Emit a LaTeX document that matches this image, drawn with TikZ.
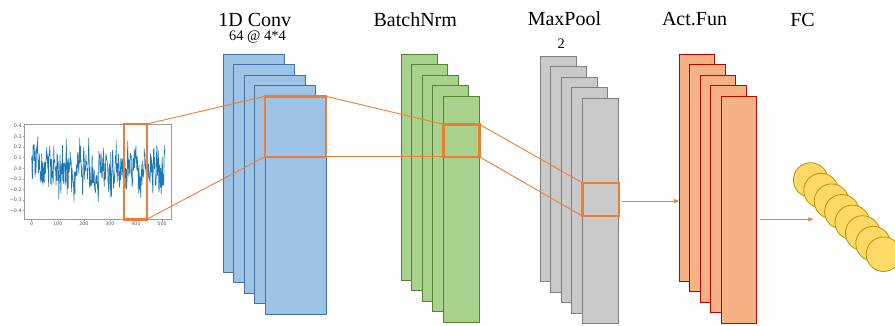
\documentclass[tikz,border=0pt]{standalone}
\usepackage{fontspec}
\setmainfont{Liberation Serif}
\newfontfamily\plotfont{DejaVu Sans}
\usetikzlibrary{arrows.meta}

\definecolor{convfill}{HTML}{9DC3E6}
\definecolor{convline}{HTML}{41719C}
\definecolor{bnfill}{HTML}{A9D18E}
\definecolor{bnline}{HTML}{548235}
\definecolor{mpfill}{HTML}{C9C9C9}
\definecolor{mpline}{HTML}{7F7F7F}
\definecolor{actfill}{HTML}{F4B183}
\definecolor{actline}{HTML}{C00000}
\definecolor{fcfill}{HTML}{FFD966}
\definecolor{fcline}{HTML}{BF9000}
\definecolor{hl}{HTML}{ED7D31}
\definecolor{sigblue}{HTML}{1F77B4}
\definecolor{axisgray}{HTML}{9A9A9A}
\definecolor{ticktext}{HTML}{555555}

\tikzset{
  layer/.style={line width=0.9pt, anchor=north west, inner sep=0pt, outer sep=0pt},
  convlayer/.style={layer, fill=convfill, draw=convline, minimum width=61pt, minimum height=218pt},
  bnlayer/.style={layer, fill=bnfill, draw=bnline, minimum width=36pt, minimum height=226pt},
  mplayer/.style={layer, fill=mpfill, draw=mpline, minimum width=36pt, minimum height=225.5pt},
  actlayer/.style={layer, fill=actfill, draw=actline, minimum width=35.5pt, minimum height=227pt},
  fcunit/.style={circle, fill=fcfill, draw=fcline, line width=0.8pt, minimum size=34.6pt, inner sep=0pt},
  sel/.style={draw=hl, line width=2.4pt, anchor=north west, inner sep=0pt, outer sep=0pt},
  link/.style={draw=hl, line width=0.9pt},
  flow/.style={link, -{Triangle[length=5pt,width=4pt]}},
  title/.style={anchor=base, inner sep=0pt, font=\fontsize{20}{22}\selectfont},
  subtitle/.style={anchor=base, inner sep=0pt, font=\fontsize{14.5}{16}\selectfont},
  ticklab/.style={inner sep=0pt, text=ticktext, font=\plotfont\fontsize{4.8}{5}\selectfont},
  axisframe/.style={draw=axisgray, line width=0.6pt, anchor=north west, inner sep=0pt, outer sep=0pt,
    minimum width=146.7pt, minimum height=95.3pt},
  sig/.style={draw=sigblue, line width=0.6pt, line join=round},
}

\begin{document}
\begin{tikzpicture}[x=1pt, y=-1pt]
\useasboundingbox (0,0) rectangle (895,325);
\clip (0,0) rectangle (895,325);
\fill[white] (0,0) rectangle (895,325);

% ---- input signal plot ----
\node[axisframe] (axes) at (24.3,124) {};
% correlated noise series, 512 samples
\pgfmathsetseed{11}
\pgfmathsetmacro\cur{0.1*(rand+rand+rand)}
\xdef\prev{\cur}
\xdef\sigpath{(0,\cur)}
\foreach \t in {1,...,511} {
  \pgfmathsetmacro\cur{0.55*\prev+0.1*(rand+rand+rand)}
  \xdef\prev{\cur}
  \xdef\sigpath{\sigpath -- (\t,\cur)}
}
\begin{scope}
  \clip (24.3,124) rectangle (171,219.3);
  \begin{scope}[shift={(31.7,168.3)}, x=0.2607pt, y=106pt]
    \draw[sig] \sigpath;
  \end{scope}
\end{scope}
\foreach \v/\lab in {4/0.4, 3/0.3, 2/0.2, 1/0.1, 0/0.0, -1/−0.1, -2/−0.2, -3/−0.3, -4/−0.4} {
  \draw[axisgray, line width=0.5pt] (24.3,{168.3-10.6*\v}) -- (22.6,{168.3-10.6*\v});
  \node[ticklab, anchor=east] (yt\v) at (21.8,{168.3-10.6*\v}) {\lab};
}
\foreach \k in {0,1,...,5} {
  \draw[axisgray, line width=0.5pt] ({31.7+26.07*\k},219.3) -- ({31.7+26.07*\k},221);
}
\node[ticklab, anchor=north] (xt0) at (31.7,222) {0};
\foreach \k in {1,...,5} {
  \node[ticklab, anchor=north] (xt\k) at ({31.7+26.07*\k},222) {\k00};
}

% ---- layer stacks ----
\foreach \i in {1,...,5} {
  \node[convlayer] (conv\i) at ({223+10.5*(\i-1)},{54+10.5*(\i-1)}) {};
}
\foreach \i in {1,...,5} {
  \node[bnlayer] (bn\i) at ({401.3+10.5*(\i-1)},{54.3+10.5*(\i-1)}) {};
}
\foreach \i in {1,...,5} {
  \node[mplayer] (mp\i) at ({540+10.6*(\i-1)},{56+10.6*(\i-1)}) {};
}
\foreach \i in {1,...,5} {
  \node[actlayer] (act\i) at ({679+10.5*(\i-1)},{54.3+10.5*(\i-1)}) {};
}

% ---- fully connected units ----
\foreach \i in {1,...,8} {
  \node[fcunit] (fc\i) at ({810.7+10.4*(\i-1)},{180+10.6*(\i-1)}) {};
}

% ---- receptive-field boxes ----
\node[sel, minimum width=22.7pt, minimum height=95.3pt] (selsig) at (124,124) {};
\node[sel, minimum width=61pt, minimum height=60.4pt] (selconv) at (265,96.3) {};
\node[sel, minimum width=36pt, minimum height=32.4pt] (selbn) at (443.3,124.3) {};
\node[sel, minimum width=36.4pt, minimum height=33.3pt] (selmp) at (582.3,182.7) {};

\draw[link] (selsig.north east) -- (selconv.north west);
\draw[link] (selsig.south east) -- (selconv.south west);
\draw[link] (selconv.north east) -- (selbn.north west);
\draw[link] (selconv.south east) -- (selbn.south west);
\draw[link] (selbn.north east) -- (selmp.north west);
\draw[link] (selbn.south east) -- (selmp.south west);

% ---- flow arrows ----
\coordinate (mpout) at (621.7,201);
\draw[flow] (mpout) -- (mpout -| act1.west);
\coordinate (actout) at (760,219.3);
\coordinate (fcin) at (813.3,219.3);
\draw[flow] (actout) -- (fcin);

% ---- titles ----
\node[title] (tconv) at (254.7,26.2) {1D Conv};
\node[subtitle] (tconvsub) at (257.5,40.5) {64 @ 4*4};
\node[title] (tbn) at (415.3,26.7) {BatchNrm};
\node[title] (tmp) at (564.5,25.5) {MaxPool};
\node[subtitle] (tmpsub) at (561.3,48) {2};
\node[title] (tact) at (694.5,25.5) {Act.Fun};
\node[title] (tfc) at (802.5,26.7) {FC};
\end{tikzpicture}
\end{document}
